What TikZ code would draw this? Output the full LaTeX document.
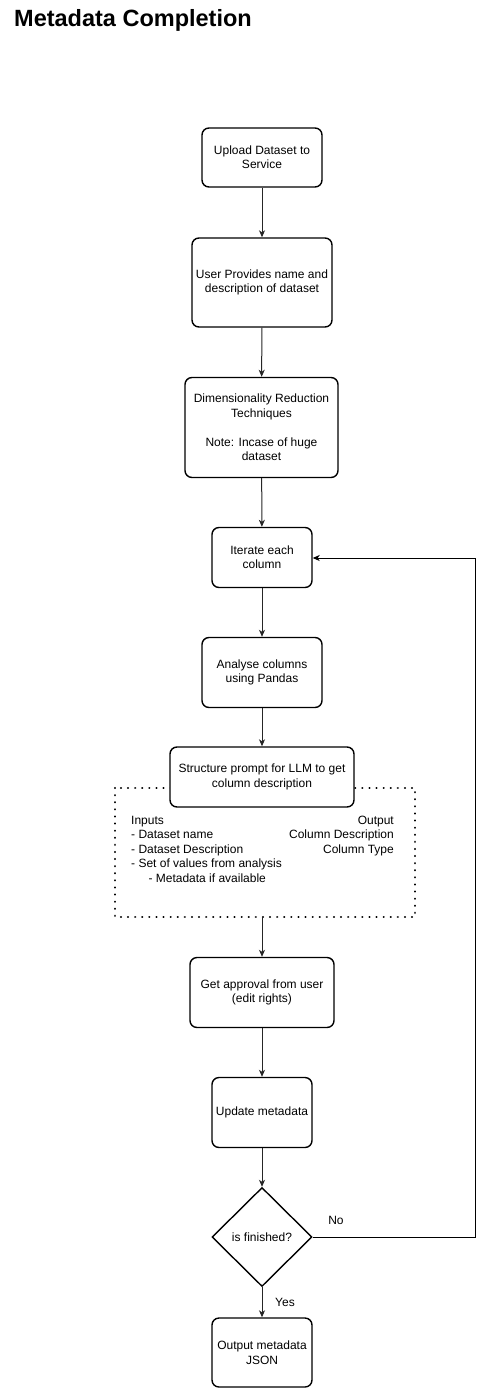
\documentclass[tikz,border=0pt]{standalone}
\usepackage{fontspec}
\setmainfont{Liberation Sans}
\usetikzlibrary{shapes.geometric,arrows.meta}
\begin{document}
\begin{tikzpicture}[x=1pt,y=-1pt,
  box/.style={draw=black,line width=1.4pt,rounded corners=7pt,fill=white,align=center,
    font=\fontsize{12}{14.4}\selectfont,inner sep=0pt},
  conn/.style={draw=black!85,line width=1pt,-{Stealth[length=7pt,width=6pt,inset=2pt]}},
  lbl/.style={font=\fontsize{12}{14.4}\selectfont,inner sep=0pt}]
\useasboundingbox (0,0) rectangle (484,1388);
% title
\node[anchor=west,inner sep=0pt,font=\bfseries\fontsize{23.5}{27}\selectfont] (title) at (14,20) {Metadata Completion};
% dotted container
\draw[line width=2.2pt,dash pattern=on 0.1pt off 7pt,line cap=round] (115,788) rectangle (415,917);
\coordinate (contB) at (262,917);
\node[lbl,anchor=north west,align=left] (inputs) at (131,816) {Inputs\\- Dataset name\\- Dataset Description\\- Set of values from analysis\\\hspace*{14pt} - Metadata if available};
\node[lbl,anchor=north east,align=right] (outputs) at (394,816) {Output\\Column Description\\Column Type};
% boxes
\node[box,minimum width=120pt,minimum height=59pt] (upload) at (262,157.5) {Upload Dataset to\\Service};
\node[box,minimum width=140pt,minimum height=89pt] (user) at (262,282.5) {User Provides name and\\description of dataset};
\node[box,minimum width=153pt,minimum height=100pt] (dim) at (261.5,427.5) {Dimensionality Reduction\\Techniques\\[14.4pt]Note: Incase of huge\\dataset};
\node[box,minimum width=100pt,minimum height=60pt] (iter) at (262,557.5) {Iterate each\\column};
\node[box,minimum width=120pt,minimum height=70pt] (analyse) at (262,672.5) {Analyse columns\\using Pandas};
\node[box,minimum width=184pt,minimum height=60pt] (prompt) at (262,777) {Structure prompt for LLM to get\\column description};
\node[box,minimum width=144pt,minimum height=70pt] (approve) at (262,992.5) {Get approval from user\\(edit rights)};
\node[box,minimum width=100pt,minimum height=70pt] (update) at (262,1112.5) {Update metadata};
\node[draw=black,line width=1.4pt,diamond,minimum width=100pt,minimum height=99pt,inner sep=0pt,
  fill=white,shape aspect=1.01] (fin) at (262,1237) {};
\node[lbl] (fintext) at (262,1237) {is finished?};
\node[box,minimum width=100pt,minimum height=69pt] (outjson) at (262,1352.5) {Output metadata\\JSON};
% connectors
\draw[conn] (upload) -- (user);
\draw[conn] (user) -- (dim);
\draw[conn] (dim) -- (iter);
\draw[conn] (iter) -- (analyse);
\draw[conn] (analyse) -- (prompt);
\draw[conn] (contB) -- (approve);
\draw[conn] (approve) -- (update);
\draw[conn] (update) -- (fin);
\draw[conn] (fin) -- (outjson);
\coordinate (loopA) at (475,1237);
\coordinate (loopB) at (475,558);
\draw[conn,draw=black] (fin.east) -- (loopA) -- (loopB) -- (iter.east |- loopB);
\node[lbl] (no) at (336,1220) {No};
\node[lbl] (yes) at (285,1302) {Yes};
\end{tikzpicture}
\end{document}
